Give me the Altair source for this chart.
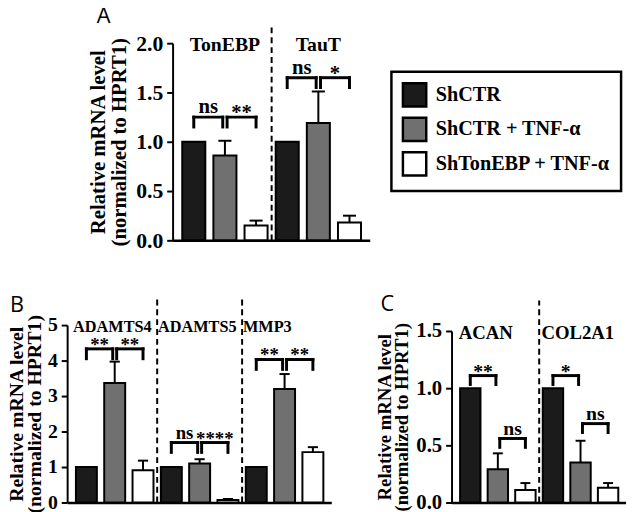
import altair as alt
import pandas as pd

conditions = ["ShCTR", "ShCTR + TNF-α", "ShTonEBP + TNF-α"]
fills = ["#1b1b1b", "#707070", "#ffffff"]

a_genes = ["TonEBP", "TauT"]
a_mean = [[1.00, 0.86, 0.15], [1.00, 1.19, 0.18]]
a_err = [[0.00, 0.15, 0.05], [0.00, 0.32, 0.07]]
a_sig = [["ns", "**"], ["ns", "*"]]
a_sig_level = [[1.25, 1.25], [1.65, 1.65]]
a_ticks = [0.0, 0.5, 1.0, 1.5, 2.0]

b_genes = ["ADAMTS4", "ADAMTS5", "MMP3"]
b_mean = [[1.00, 3.37, 0.91], [1.00, 1.10, 0.07], [1.00, 3.20, 1.42]]
b_err = [[0.00, 0.60, 0.27], [0.00, 0.12, 0.03], [0.00, 0.42, 0.14]]
b_sig = [["**", "**"], ["ns", "****"], ["**", "**"]]
b_sig_level = [[4.33, 4.33], [1.69, 1.69], [4.03, 4.03]]
b_ticks = [0, 1, 2, 3, 4, 5]

c_genes = ["ACAN", "COL2A1"]
c_mean = [[1.00, 0.29, 0.11], [1.00, 0.35, 0.13]]
c_err = [[0.00, 0.14, 0.06], [0.00, 0.19, 0.04]]
c_sig = [["**", "ns"], ["*", "ns"]]
c_sig_level = [[1.11, 0.56], [1.11, 0.69]]
c_ticks = [0.0, 0.5, 1.0, 1.5]

SERIF = "Liberation Serif"
SANS = "Open Sans"
Y_TITLE = ["Relative mRNA level", "(normalized to HPRT1)"]
PAIRS = [(0, 1), (1, 2)]

legend = alt.Legend(
    title=None, orient="none", legendX=329, legendY=29,
    symbolType="square", symbolSize=560, symbolStrokeColor="black",
    symbolStrokeWidth=2.5, symbolOpacity=1,
    labelFont=SERIF, labelFontWeight="bold", labelFontSize=20.5,
    labelLimit=400, labelColor="black", labelOffset=8, rowPadding=0,
    padding=10, strokeColor="black",
)


def panel(letter, genes, mean, err, sig, level, ticks, fmt, width, height,
          left_px, top_px, label_size, title_size, title_lh, title_gap,
          sub_size, sub_shift, sep_px, leg_px, cap_half, letter_dx,
          letter_dy, sig_size):
    ymax = ticks[-1]
    unit = (height - top_px) / ymax
    n = len(genes) * 3
    sub_align = "center" if sub_shift is None else "left"
    rows, brs, seps, subs = [], [], [], []
    for g, gene in enumerate(genes):
        for c, cond in enumerate(conditions):
            pos = g * 3 + c
            rows.append(dict(gene=gene, cond=cond, pos=pos, x1=pos - 0.37,
                             x2=pos + 0.37, mean=mean[g][c], base=0.0,
                             top=mean[g][c] + err[g][c], err=err[g][c],
                             cl=pos - cap_half, cr=pos + cap_half))
        for k, (i, j) in enumerate(PAIRS):
            lo = g * 3 + i + (0.07 if i == 1 else 0.0)
            hi = g * 3 + j - (0.07 if j == 1 else 0.0)
            brs.append(dict(x1=lo, x2=hi, y=level[g][k],
                            yl=level[g][k] - leg_px / unit,
                            mid=(lo + hi) / 2, label=sig[g][k],
                            star=sig[g][k] != "ns"))
        if g > 0:
            seps.append(dict(x=g * 3 - 0.5, y=0, y2=ymax + sep_px / unit))
        sx = g * 3 + 1 if sub_shift is None else g * 3 - 0.37 - sub_shift
        subs.append(dict(x=sx, y=ymax, label=gene))
    df = pd.DataFrame(rows)
    de = df[df["err"] > 0]
    db = pd.DataFrame(brs)
    ds = pd.DataFrame(seps)
    dt = pd.DataFrame(subs)

    if left_px > 0:
        xs = alt.Scale(domain=[-0.68, n - 0.35], range=[left_px, width],
                       nice=False, zero=False)
    else:
        xs = alt.Scale(domain=[-0.68, n - 0.35], nice=False, zero=False)
    ys = alt.Scale(domain=[0, ymax], range=[height, top_px], nice=False,
                   zero=False)
    xaxis = alt.Axis(title=None, labels=False, ticks=False, grid=False,
                     domainWidth=2.5, domainColor="black")
    yaxis = alt.Axis(title=Y_TITLE, values=ticks, format=fmt, grid=False,
                     offset=-left_px,
                     tickSize=6, tickWidth=2, tickColor="black",
                     domainWidth=2, domainColor="black", labelFont=SERIF,
                     labelFontWeight="bold", labelFontSize=label_size,
                     labelColor="black", labelPadding=4, titleFont=SERIF,
                     titleFontWeight="bold", titleFontSize=title_size,
                     titleColor="black", titlePadding=title_gap,
                     titleLineHeight=title_lh)

    def X(f):
        return alt.X(f, type="quantitative", scale=xs, axis=xaxis)

    def Y(f):
        return alt.Y(f, type="quantitative", scale=ys, axis=yaxis)

    bars = alt.Chart(df).mark_bar(stroke="black", strokeWidth=2).encode(
        x=X("x1"), x2="x2", y=Y("mean"), y2="base",
        color=alt.Color("cond:N", scale=alt.Scale(domain=conditions,
                                                  range=fills),
                        legend=legend),
    )
    ebar = alt.Chart(de).mark_rule(color="black", strokeWidth=2).encode(
        x=X("pos"), y=Y("mean"), y2="top")
    ecap = alt.Chart(de).mark_rule(color="black", strokeWidth=2).encode(
        x=X("cl"), x2="cr", y=Y("top"))
    bh = alt.Chart(db).mark_rule(color="black", strokeWidth=3,
                                 strokeCap="square").encode(
        x=X("x1"), x2="x2", y=Y("y"))
    bl = alt.Chart(db).mark_rule(color="black", strokeWidth=3,
                                 strokeCap="square").encode(
        x=X("x1"), y=Y("yl"), y2="y")
    brr = alt.Chart(db).mark_rule(color="black", strokeWidth=3,
                                  strokeCap="square").encode(
        x=X("x2"), y=Y("yl"), y2="y")
    bt_ns = alt.Chart(db).transform_filter("!datum.star").mark_text(
        font=SERIF, fontWeight="bold", fontSize=sig_size, color="black",
        baseline="alphabetic", dy=-4).encode(
        x=X("mid"), y=Y("y"), text="label")
    bt_st = alt.Chart(db).transform_filter("datum.star").mark_text(
        font=SERIF, fontWeight="bold", fontSize=sig_size, color="black",
        baseline="alphabetic", dy=2).encode(
        x=X("mid"), y=Y("y"), text="label")
    sep = alt.Chart(ds).mark_rule(color="black", strokeWidth=2,
                                  strokeDash=[6, 4]).encode(
        x=X("x"), y=Y("y"), y2="y2")
    st = alt.Chart(dt).mark_text(font=SERIF, fontWeight="bold",
                                 fontSize=sub_size, color="black",
                                 baseline="middle", align=sub_align,
                                 dy=2).encode(
        x=X("x"), y=Y("y"), text="label")
    return alt.layer(bars, ebar, ecap, bh, bl, brr, bt_ns, bt_st, sep,
                     st).properties(
        width=width, height=height,
        title=alt.TitleParams(letter, anchor="start", frame="group",
                              dx=letter_dx, dy=letter_dy,
                              font=SANS, fontSize=22, fontWeight="normal",
                              color="black", offset=2),
    )


pa = panel("A", a_genes, a_mean, a_err, a_sig, a_sig_level, a_ticks, ".1f",
           307, 200, 107, 0, 22, 21, 22, 6, 20, None, 20, 10, 0.21,
           30, 8, 21)
pb = panel("B", b_genes, b_mean, b_err, b_sig, b_sig_level, b_ticks, "d",
           268, 180, 0, 0, 20, 20, 18, 3, 16.5, 0.1, 30, 10, 0.18,
           -58, 25, 19)
pc = panel("C", c_genes, c_mean, c_err, c_sig, c_sig_level, c_ticks, ".1f",
           177, 180, 0, 6, 21, 19, 18, 4, 19, 0.05, 31, 9, 0.18,
           -72, 19, 20)

row2 = alt.hconcat(pb, pc, spacing=122, bounds="flush")
chart = alt.vconcat(pa, row2, spacing=86, bounds="flush").configure_view(
    stroke=None).configure_legend(strokeWidth=2.5).properties(
    padding={"left": -1, "top": -7, "right": 0, "bottom": 0})

chart.save("out.html", embed_options={"renderer": "svg", "actions": False})
